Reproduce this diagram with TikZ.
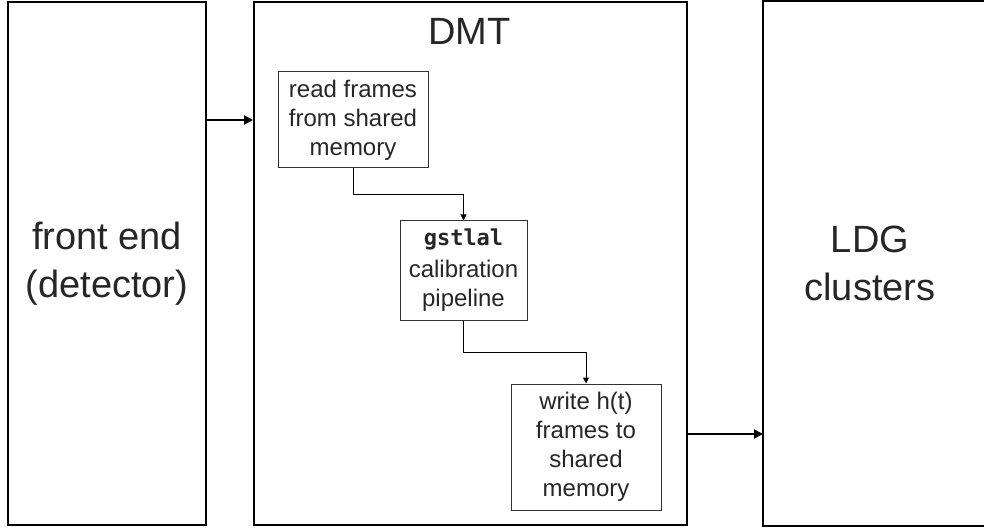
\documentclass[tikz,border=0pt]{standalone}
\usepackage{fontspec}
\setmainfont{Liberation Sans}
\newfontfamily\codefont{DejaVu Sans Mono}
\usetikzlibrary{arrows.meta,calc}

\tikzset{
  bigbox/.style={draw=black, line width=2pt, minimum width=#1, anchor=north west,
    minimum height=523pt, inner sep=0pt, text=black!85,
    font=\fontsize{38}{48}\selectfont, align=center},
  stepbox/.style={draw=black!80, line width=1pt, inner sep=0pt, text=black!85,
    font=\fontsize{24}{29}\selectfont, align=center},
  flow/.style={draw=black, line width=1pt, -{Triangle[length=6pt,width=6pt]}},
  bigflow/.style={draw=black, line width=2pt, -{Triangle[length=9pt,width=9pt]}}
}

\begin{document}
\begin{tikzpicture}[x=1pt,y=-1pt]
  \useasboundingbox (0,0) rectangle (984,529);

  % outer blocks
  \node[bigbox=198pt] (fe) at (7,1) {front end\\(detector)};
  \node[bigbox=433pt] (dmt) at (253,1) {};
  \node[bigbox=221pt, draw=none] (ldg) at (763,1) {\hspace*{-9pt}LDG\\\hspace*{-9pt}clusters};
  \draw[line width=2pt] (ldg.north east) -- (ldg.north west) -- (ldg.south west) -- (ldg.south east);

  \node[text=black!85, font=\fontsize{38}{48}\selectfont] (dmttitle) at (469.5,31) {DMT};

  % processing steps inside the DMT
  \node[stepbox, minimum width=150pt, minimum height=96pt] (read) at (353,120)
    {read frames\\from shared\\memory};
  \node[stepbox, minimum width=127pt, minimum height=99pt] (cal) at (463.5,270.5)
    {{\codefont\bfseries\fontsize{22}{29}\selectfont gstlal}\\[3pt]calibration\\pipeline};
  \node[stepbox, minimum width=150pt, minimum height=126pt] (write) at (586,447)
    {write h(t)\\frames to\\shared\\memory};

  % connectors
  \draw[bigflow] (fe.east |- read.center) -- (dmt.west |- read.center);
  \draw[flow] (read.south) -- ++(0,26) -| (cal.north);
  \draw[flow] (cal.south) -- ++(0,32) -| (write.north);
  \draw[bigflow] ([yshift=-170.5pt]dmt.east) -- ([yshift=-170.5pt]ldg.west);
\end{tikzpicture}
\end{document}
